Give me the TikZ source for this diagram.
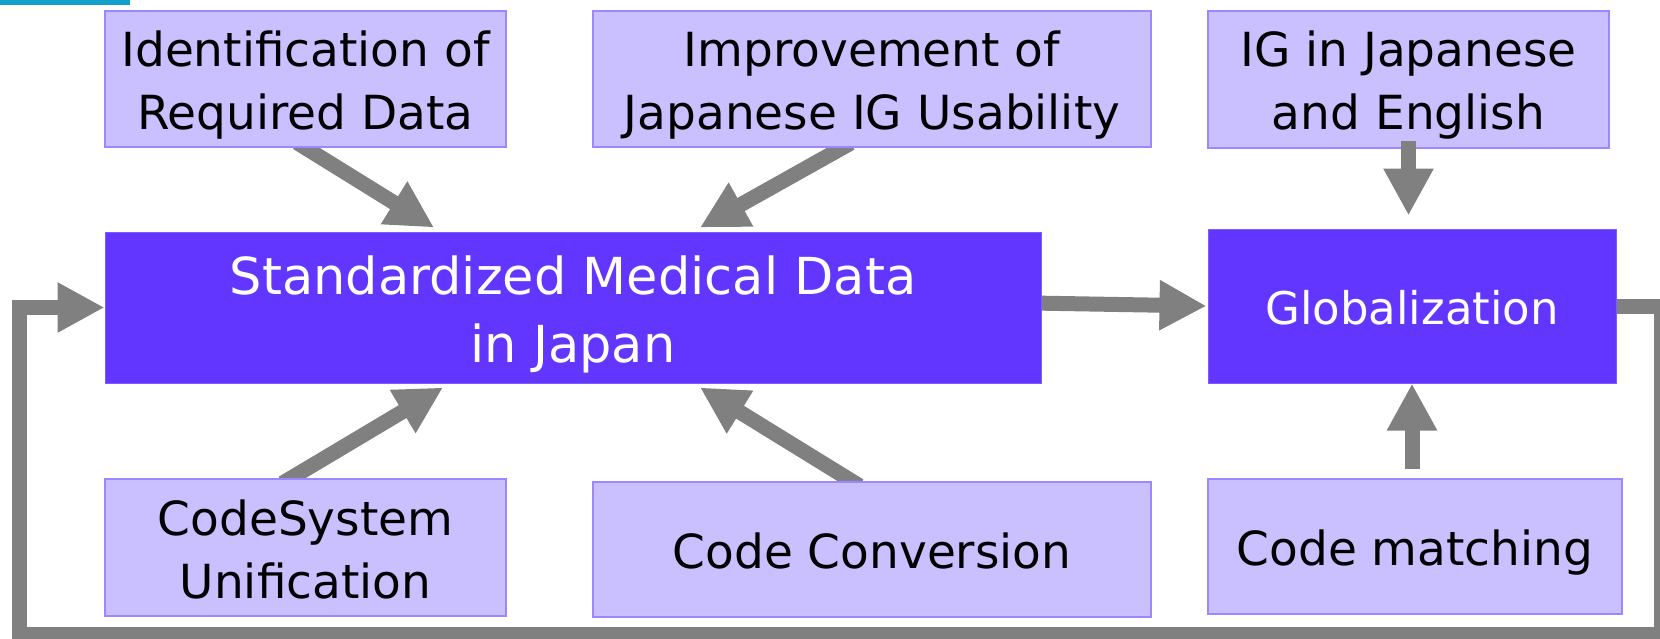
\documentclass[tikz,border=0pt]{standalone}
\usepackage{fontspec}
\setmainfont{DejaVu Sans}
\usetikzlibrary{arrows.meta,calc,backgrounds}
\definecolor{lightfill}{HTML}{CBC0FF}
\definecolor{lightdraw}{HTML}{9B87FF}
\definecolor{mainfill}{HTML}{6236FF}
\definecolor{maindraw}{HTML}{7A5CFF}
\definecolor{arrgray}{HTML}{808080}
\definecolor{barblue}{HTML}{14A0CD}
\newcommand\lstrut{\rule[-0.25em]{0pt}{1.32em}}
\begin{document}
\begin{tikzpicture}[x=1pt,y=-1pt,
  sub/.style={draw=lightdraw, line width=2pt, fill=lightfill, inner sep=0pt, align=center,
    font=\fontsize{47}{57}\selectfont, text=black},
  core/.style={draw=maindraw, line width=1pt, fill=mainfill, inner sep=0pt, align=center, text=white},
  arr/.style={draw=arrgray, line width=15pt, line join=miter,
    -{Triangle[length=47pt,width=47pt]}}]
\useasboundingbox (0,0) rectangle (1660,638);
\fill[barblue] (0,0) rectangle (130,4.5);

\node[sub, minimum width=401pt, minimum height=136pt] (id) at (305.5,79) {\lstrut Identification of\\\lstrut Required Data};
\node[sub, minimum width=558pt, minimum height=136pt] (imp) at (872,79) {\lstrut Improvement of\\\lstrut Japanese IG Usability};
\node[sub, minimum width=401pt, minimum height=137pt] (ig) at (1408.5,79) {\lstrut IG in Japanese\\\lstrut and English};
\node[core, minimum width=936pt, minimum height=151pt, font=\fontsize{51}{63}\selectfont] (std) at (573,307.5) {\lstrut Standardized Medical Data\\\lstrut in Japan};
\node[core, minimum width=408pt, minimum height=154pt, font=\fontsize{45}{55}\selectfont] (glob) at (1412,306) {\lstrut Globalization};
\node[sub, minimum width=401pt, minimum height=137pt] (cs) at (305.5,547.5) {\lstrut CodeSystem\\\lstrut Unification};
\node[sub, minimum width=558pt, minimum height=135pt] (cc) at (872,549) {\lstrut Code Conversion};
\node[sub, minimum width=414pt, minimum height=135pt] (cm) at (1415,546.5) {\lstrut Code matching};

\coordinate (c1) at (1661,634);
\coordinate (c2) at (19,634);

\begin{scope}[on background layer]
\draw[arr] ([xshift=-8.5pt,yshift=5.4pt]id.south) -- ([xshift=-139pt,yshift=4pt]std.north);
\draw[arr] ([xshift=-21.3pt,yshift=4.9pt]imp.south) -- ([xshift=127pt,yshift=4pt]std.north);
\draw[arr] ([xshift=-23pt,yshift=-5.2pt]cs.north) -- ([xshift=-130pt,yshift=-4pt]std.south);
\draw[arr] ([xshift=-12.5pt,yshift=-5.3pt]cc.north) -- ([xshift=127pt,yshift=-4pt]std.south);
\draw[arr] ([xshift=-10pt,yshift=4.5pt]std.east) -- ([xshift=-1pt]glob.west);
\end{scope}

\draw[arr] ($(ig.south)+(0,-8)$) -- ($(ig.south |- glob.north)+(0,-13)$);
\draw[arr] ($(glob.south |- cm.north)+(0,-9)$) -- (glob.south);
\draw[arr] (glob.east) -| (c1) -- (c2) |- (std.west);
\end{tikzpicture}
\end{document}
